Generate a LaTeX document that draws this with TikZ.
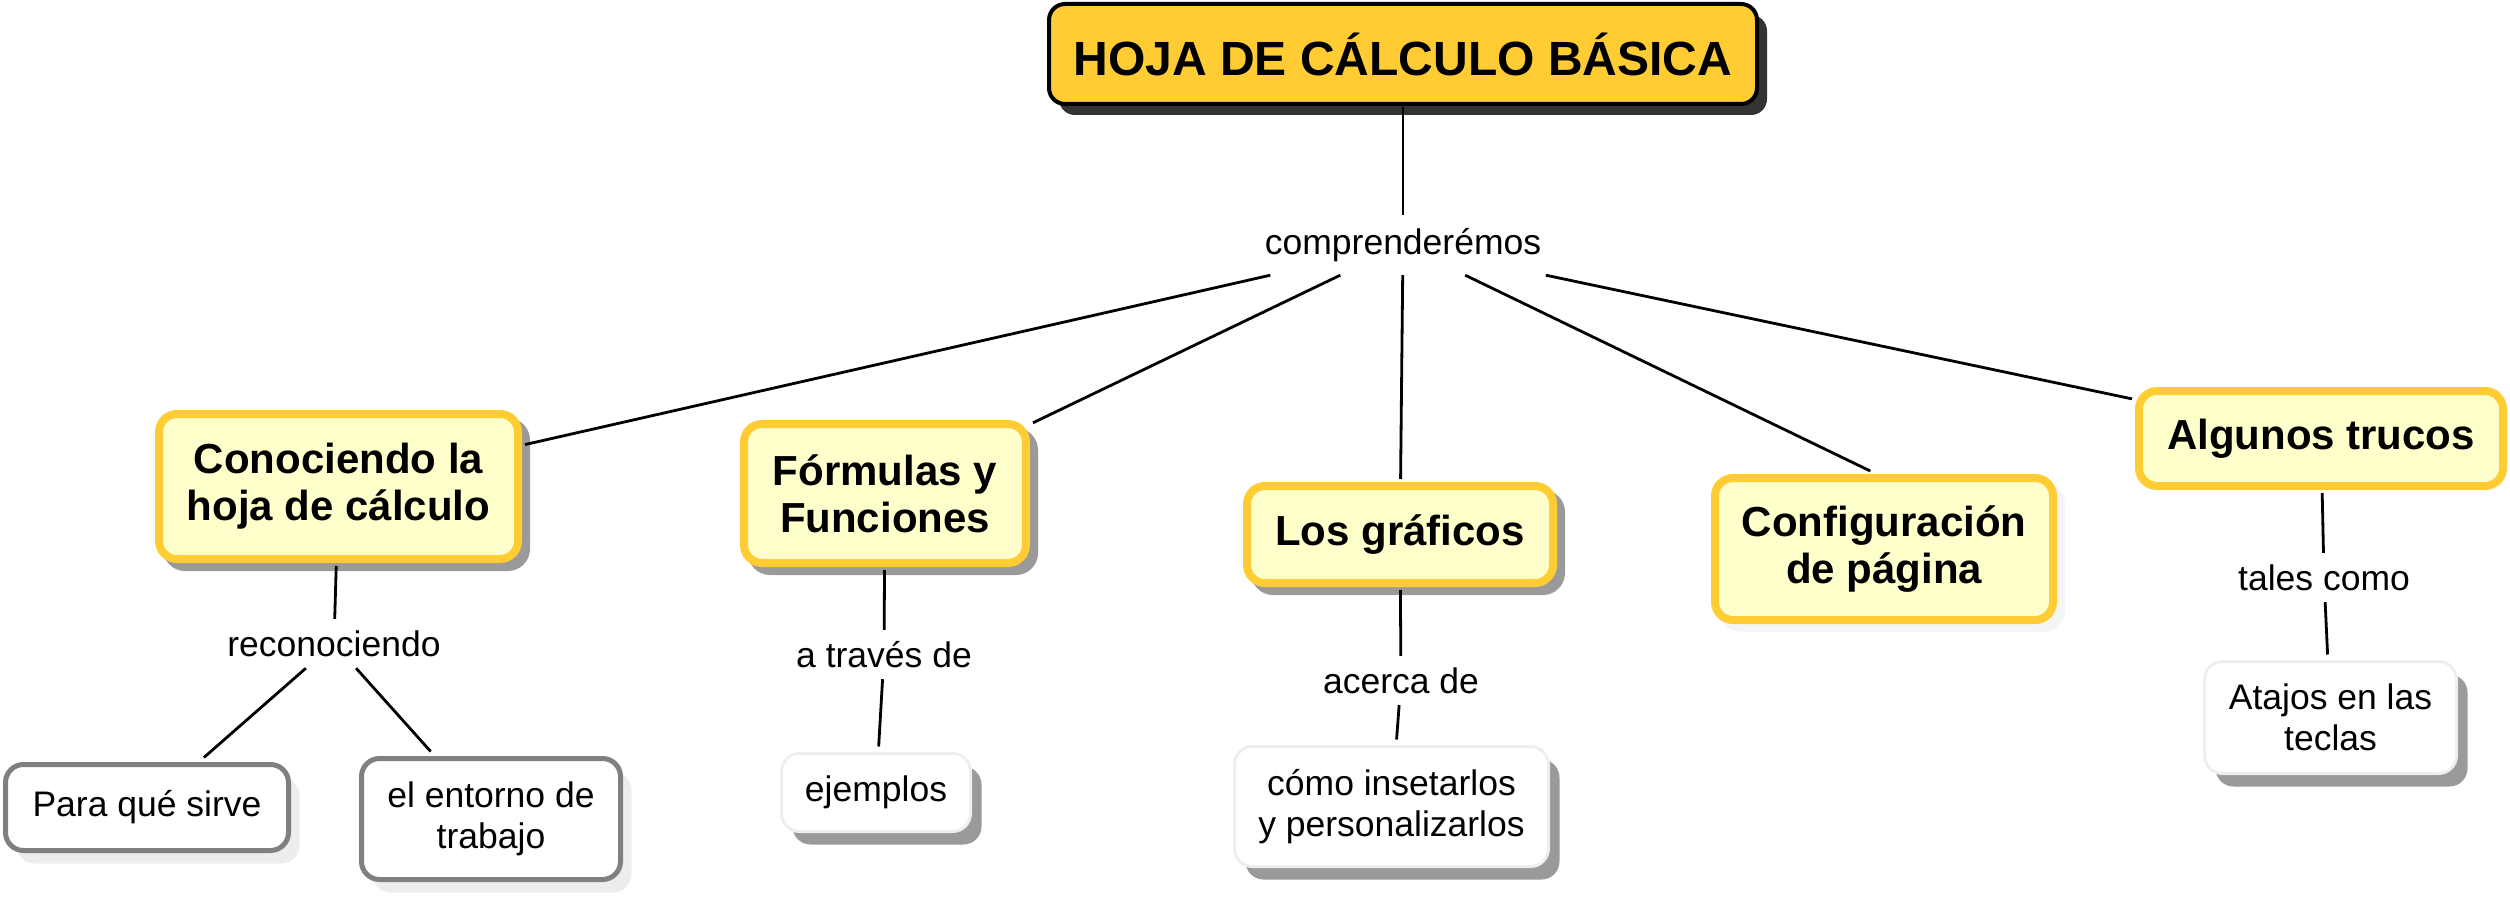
\documentclass[tikz,border=0pt]{standalone}
\usepackage{fontspec}
\setmainfont{Liberation Sans}
\usetikzlibrary{shadows}
\definecolor{gold}{HTML}{FFCC33}
\definecolor{cream}{HTML}{FFFFCC}
\definecolor{shadowmid}{HTML}{9A9A9A}
\definecolor{shadowdark}{HTML}{333333}
\definecolor{grayborder}{HTML}{808080}
\definecolor{lightborder}{HTML}{EEEEEE}
\definecolor{lightshadow}{HTML}{EDEDED}
\definecolor{faintshadow}{HTML}{F5F5F5}
\begin{document}
\begin{tikzpicture}[x=1pt,y=-1pt,
  every node/.style={inner sep=0pt, align=center},
  titlebox/.style={draw=black, line width=4pt, fill=gold, rounded corners=16pt,
    font=\fontsize{48}{56}\selectfont\bfseries, outer sep=3pt,
    drop shadow={shadow xshift=10pt, shadow yshift=-11pt, fill=shadowdark, opacity=1}},
  concept/.style={draw=gold, line width=8pt, fill=cream, rounded corners=18pt,
    font=\fontsize{42}{47}\selectfont\bfseries, outer sep=7pt},
  yshadow/.style={drop shadow={shadow xshift=8pt, shadow yshift=-8pt, fill=shadowmid,
    draw=shadowmid, line width=8pt, opacity=1}},
  fshadow/.style={drop shadow={shadow xshift=8pt, shadow yshift=-8pt, fill=faintshadow,
    draw=faintshadow, line width=8pt, opacity=1}},
  whitebox/.style={draw=lightborder, line width=3pt, fill=white, rounded corners=18pt,
    font=\fontsize{35.5}{41}\selectfont, outer sep=7pt,
    drop shadow={shadow xshift=11pt, shadow yshift=-13pt, fill=shadowmid, opacity=1}},
  graybox/.style={draw=grayborder, line width=5pt, fill=white, rounded corners=18pt,
    font=\fontsize{35.5}{41}\selectfont, outer sep=7pt,
    drop shadow={shadow xshift=11pt, shadow yshift=-13pt, fill=lightshadow, opacity=1}},
  linklabel/.style={font=\fontsize{35.5}{41}\selectfont, text height=37pt, text depth=12pt,
    inner xsep=6pt},
  biglabel/.style={font=\fontsize{35.5}{41}\selectfont, text height=40pt, text depth=20pt,
    inner xsep=12pt},
  conn/.style={draw=black, line width=2.8pt}
]
\useasboundingbox (0,0) rectangle (2510,901);

% title
\node[titlebox, minimum width=708pt, minimum height=100pt] (title) at (1403,54) {HOJA DE CÁLCULO BÁSICA};
\node[biglabel] (comp) at (1403,245) {comprenderémos};

% main concepts
\node[concept, yshadow, minimum width=359pt, minimum height=145pt] (conoc) at (338.5,486.5) {Conociendo la\\hoja de cálculo};
\node[concept, yshadow, minimum width=282pt, minimum height=139pt] (formu) at (885,493.5) {Fórmulas y\\Funciones};
\node[concept, yshadow, minimum width=306pt, minimum height=97pt] (graf) at (1400,534.5) {Los gráficos};
\node[concept, fshadow, minimum width=338pt, minimum height=142pt] (conf) at (1884,549) {Configuración\\de página};
\node[concept, minimum width=364pt, minimum height=95pt] (trucos) at (2321,438.5) {Algunos trucos};

% link labels
\node[linklabel] (recon) at (334,643.5) {reconociendo};
\node[linklabel] (atraves) at (884,654.5) {a través de};
\node[linklabel] (acerca) at (1401,680.5) {acerca de};
\node[linklabel] (tales) at (2324,577.5) {tales como};

% leaves
\node[graybox, minimum width=283pt, minimum height=86pt] (para) at (147,807.5) {Para qué sirve};
\node[graybox, minimum width=259pt, minimum height=121pt] (entorno) at (491,819) {el entorno de\\trabajo};
\node[whitebox, minimum width=189pt, minimum height=78pt] (ejem) at (876,792.5) {ejemplos};
\node[whitebox, minimum width=314pt, minimum height=120pt] (como) at (1391.5,806.5) {cómo insetarlos\\y personalizarlos};
\node[whitebox, minimum width=252pt, minimum height=112pt] (atajos) at (2330.5,717.5) {Atajos en las\\teclas};

% connectors
\draw[conn] (title) -- (comp);
\draw[conn] (comp) -- (conoc);
\draw[conn] (comp) -- (formu);
\draw[conn] (comp) -- (graf);
\draw[conn] (comp) -- (conf.100);
\draw[conn] (comp) -- (trucos);
\draw[conn] (conoc) -- (recon);
\draw[conn] (recon) -- (para);
\draw[conn] (recon) -- (entorno);
\draw[conn] (formu) -- (atraves);
\draw[conn] (atraves) -- (ejem);
\draw[conn] (graf) -- (acerca);
\draw[conn] (acerca) -- (como);
\draw[conn] (trucos) -- (tales);
\draw[conn] (tales) -- (atajos);
\end{tikzpicture}
\end{document}
